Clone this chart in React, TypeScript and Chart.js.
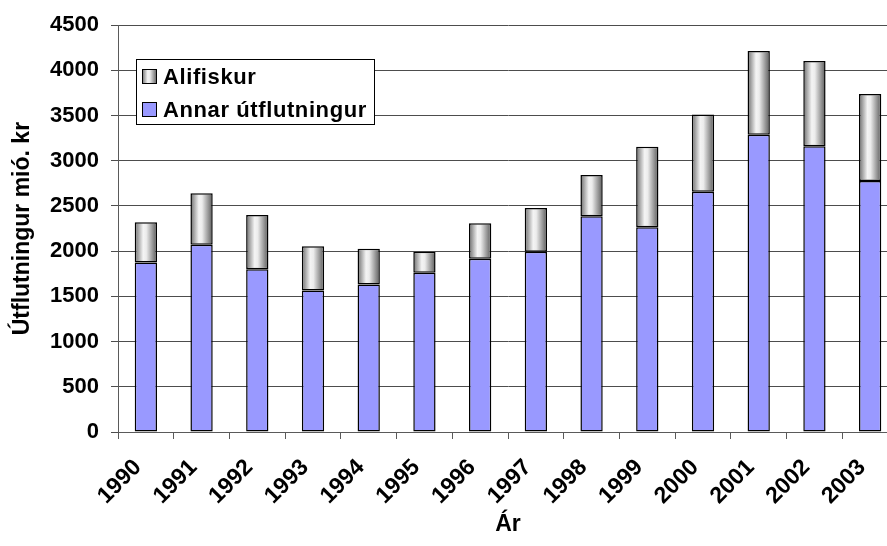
import React, { useEffect, useRef } from 'react';
import { Chart, registerables } from 'chart.js';

Chart.register(...registerables);

const years = ['1990', '1991', '1992', '1993', '1994', '1995', '1996', '1997', '1998', '1999', '2000', '2001', '2002', '2003'];
const annarUtflutningur = [1875, 2070, 1801, 1566, 1632, 1761, 1916, 1993, 2386, 2265, 2659, 3287, 3162, 2776];
const alifiskur = [444, 570, 600, 489, 394, 232, 393, 485, 456, 890, 852, 927, 941, 963];
const yMin = 0;
const yMax = 4500;
const yStep = 500;
const seriesNames = ['Alifiskur', 'Annar útflutningur'];
const yTitle = 'Útflutningur mió. kr';
const xTitle = 'Ár';

const FONT = "'Liberation Sans', Arial, Helvetica, sans-serif";
const PURPLE = '#9999FF';

function cylinder(c: CanvasRenderingContext2D, x0: number, x1: number) {
  const g = c.createLinearGradient(x0, 0, x1, 0);
  g.addColorStop(0, '#6c6c6c');
  g.addColorStop(0.38, '#f4f4f4');
  g.addColorStop(0.52, '#ececec');
  g.addColorStop(1, '#5a5a5a');
  return g;
}

const boxLegend = {
  id: 'boxLegend',
  afterDraw(chart: any) {
    const c: CanvasRenderingContext2D = chart.ctx;
    c.save();
    c.fillStyle = '#ffffff';
    c.fillRect(136, 59, 238, 65);
    c.strokeStyle = '#000000';
    c.lineWidth = 1;
    c.strokeRect(136.5, 59.5, 238, 65);
    const items = [
      { label: seriesNames[0], fill: cylinder(c, 142, 157) as any },
      { label: seriesNames[1], fill: PURPLE as any },
    ];
    items.forEach((it, i) => {
      const y = 69 + i * 33;
      c.fillStyle = it.fill;
      c.fillRect(142, y, 15, 15);
      c.strokeStyle = '#000';
      c.strokeRect(142.5, y + 0.5, 14, 14);
      c.fillStyle = '#000';
      c.font = `bold 22px ${FONT}`;
      try { (c as any).letterSpacing = '0.6px'; } catch (e) {}
      c.textBaseline = 'alphabetic';
      c.textAlign = 'left';
      c.fillText(it.label, 163, y + 15);
    });
    c.restore();
  },
};

export default function App() {
  const ref = useRef<HTMLCanvasElement>(null);

  useEffect(() => {
    if (!ref.current) return;
    const font = { family: FONT, size: 22, weight: 'bold' as const };
    const xFont = { family: FONT, size: 23, weight: 'bold' as const };
    const titleFont = { family: FONT, size: 23, weight: 'bold' as const };
    const chart = new Chart(ref.current, {
      type: 'bar',
      data: {
        labels: years,
        datasets: [
          {
            label: seriesNames[1],
            data: annarUtflutningur,
            backgroundColor: PURPLE,
            borderColor: '#000',
            borderWidth: 1.5,
            borderSkipped: false,
            barPercentage: 0.4,
            categoryPercentage: 1,
          },
          {
            label: seriesNames[0],
            data: alifiskur,
            backgroundColor: (ctx: any) => {
              const ch = ctx.chart;
              const xs = ch.scales && ch.scales.x;
              if (!xs || ctx.dataIndex === undefined) return '#cccccc';
              const cx = xs.getPixelForValue(ctx.dataIndex);
              const w = (xs.width / years.length) * 0.4;
              if (!isFinite(cx) || !isFinite(w) || w <= 0) return '#cccccc';
              return cylinder(ch.ctx, cx - w / 2, cx + w / 2);
            },
            borderColor: '#000',
            borderWidth: 1.5,
            borderSkipped: false,
            barPercentage: 0.4,
            categoryPercentage: 1,
          },
        ],
      },
      options: {
        responsive: false,
        animation: false,
        devicePixelRatio: 1,
        layout: { padding: { top: 24, right: 7, bottom: 0, left: 0 } },
        plugins: {
          legend: { display: false },
          tooltip: { enabled: false },
        },
        scales: {
          x: {
            stacked: true,
            offset: true,
            grid: { display: true, drawOnChartArea: false, drawTicks: true, tickLength: 7, color: '#5a5a5a', offset: true },
            border: { display: true, color: '#5a5a5a', width: 1 },
            ticks: { color: '#000', font: xFont, minRotation: 45, maxRotation: 45, autoSkip: false, padding: 15, labelOffset: -8 },
            title: { display: true, text: xTitle, color: '#000', font: titleFont, padding: { top: 0, bottom: 8 } },
            afterFit: (s: any) => { s.height = 114; },
          },
          y: {
            stacked: true,
            min: yMin,
            max: yMax,
            ticks: { stepSize: yStep, color: '#000', font, padding: 12, callback: (v: any) => String(v) },
            grid: { color: '#4d4d4d', tickLength: 7, drawTicks: true },
            border: { display: true, color: '#5a5a5a', width: 1 },
            title: { display: true, text: yTitle, color: '#000', font: titleFont, padding: { top: 9, bottom: 0 } },
            afterFit: (s: any) => { s.width = 118; },
          },
        },
      },
      plugins: [boxLegend],
    });
    return () => chart.destroy();
  }, []);

  return (
    <div style={{ position: 'absolute', left: 0, top: 0, width: 887, height: 546, overflow: 'hidden', background: '#fff' }}>
      <canvas ref={ref} width={905} height={546} style={{ display: 'block', width: 905, height: 546 }} />
    </div>
  );
}
